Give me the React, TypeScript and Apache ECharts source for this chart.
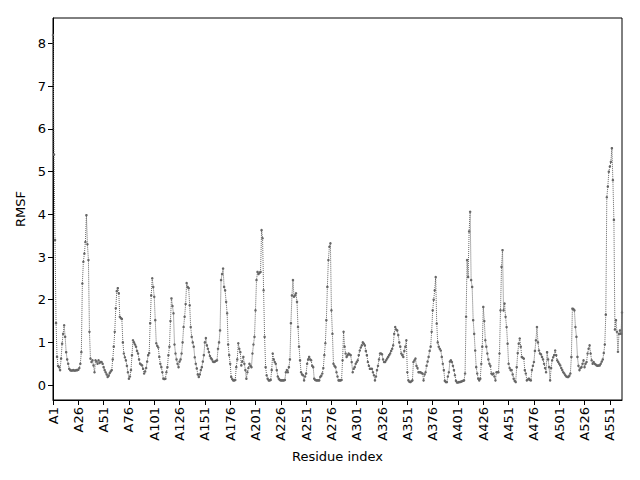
import React, { useEffect, useRef } from "react";
import * as echarts from "echarts";

const rmsf: number[] = [
  8.2, 5.4, 3.4, 1.45, 0.66, 0.45, 0.42, 0.35, 0.62, 0.97,
  1.2, 1.4, 1.13, 0.77, 0.6, 0.5, 0.38, 0.35, 0.34, 0.34,
  0.35, 0.34, 0.34, 0.35, 0.35, 0.36, 0.4, 0.5, 0.77, 2.38,
  2.89, 3.08, 3.35, 3.98, 3.3, 2.93, 1.25, 0.62, 0.54, 0.58,
  0.46, 0.3, 0.58, 0.55, 0.5, 0.58, 0.52, 0.54, 0.54, 0.5,
  0.42, 0.35, 0.3, 0.25, 0.19, 0.22, 0.28, 0.32, 0.35, 0.6,
  0.9, 1.25, 1.8, 2.2, 2.27, 2.15, 1.6, 1.57, 1.55, 1.0,
  0.74, 0.65, 0.58, 0.45, 0.3, 0.15, 0.2, 0.35, 0.7, 1.05,
  1.0, 0.95, 0.9, 0.8, 0.74, 0.6, 0.5, 0.48, 0.46, 0.38,
  0.27, 0.32, 0.4, 0.55, 0.7, 0.75, 1.45, 2.1, 2.5, 2.3,
  2.07, 1.52, 0.98, 0.92, 0.88, 0.66, 0.5, 0.42, 0.3, 0.15,
  0.14, 0.15, 0.3, 0.42, 0.7, 0.9, 1.5, 2.03, 1.85, 1.68,
  0.95, 0.74, 0.6, 0.5, 0.42, 0.55, 0.6, 0.74, 1.0, 1.36,
  1.6, 1.9, 2.39, 2.3, 2.27, 1.87, 1.36, 1.13, 1.0, 0.9,
  0.65, 0.5, 0.39, 0.25, 0.19, 0.25, 0.35, 0.42, 0.55, 0.7,
  1.0, 1.1, 0.93, 0.85, 0.77, 0.68, 0.63, 0.6, 0.55, 0.54,
  0.55, 0.57, 0.58, 0.85, 1.0, 1.28, 2.46, 2.6, 2.73, 2.3,
  2.22, 1.95, 1.68, 0.95, 0.7, 0.5, 0.19, 0.14, 0.11, 0.11,
  0.12, 0.42, 0.6, 0.98, 0.85, 0.77, 0.46, 0.55, 0.66, 0.5,
  0.35, 0.15, 0.3, 0.4, 0.5, 0.45, 0.42, 0.74, 0.95, 1.13,
  1.75, 2.46, 2.65, 2.6, 2.63, 2.65, 3.63, 3.44, 2.22, 1.13,
  0.42, 0.23, 0.15, 0.11, 0.11, 0.12, 0.35, 0.74, 0.6, 0.54,
  0.5, 0.35, 0.2, 0.15, 0.12, 0.11, 0.11, 0.11, 0.11, 0.12,
  0.3, 0.35, 0.3, 0.42, 0.6, 1.45, 2.1, 2.46, 2.07, 2.1,
  2.15, 1.95, 1.36, 0.9, 0.58, 0.3, 0.25, 0.23, 0.11, 0.2,
  0.27, 0.5, 0.6, 0.66, 0.6, 0.58, 0.45, 0.42, 0.15, 0.12,
  0.11, 0.11, 0.11, 0.11, 0.19, 0.22, 0.27, 0.4, 0.7, 0.98,
  1.52, 2.3, 2.93, 3.24, 3.32, 1.75, 1.2, 0.5, 0.45, 0.42,
  0.3, 0.2, 0.11, 0.11, 0.11, 0.12, 0.58, 1.25, 0.9, 0.74,
  0.66, 0.7, 0.74, 0.72, 0.7, 0.54, 0.3, 0.38, 0.42, 0.5,
  0.54, 0.58, 0.7, 0.81, 0.88, 0.93, 1.0, 0.97, 0.93, 0.8,
  0.7, 0.54, 0.45, 0.38, 0.38, 0.38, 0.3, 0.23, 0.11, 0.2,
  0.35, 0.45, 0.6, 0.74, 0.74, 0.72, 0.6, 0.54, 0.54, 0.58,
  0.62, 0.66, 0.7, 0.74, 0.8, 0.85, 0.93, 1.2, 1.36, 1.3,
  1.28, 1.17, 1.0, 0.9, 0.74, 0.7, 0.66, 0.8, 0.9, 1.05,
  0.3, 0.11, 0.08, 0.07, 0.09, 0.11, 0.54, 0.58, 0.62, 0.45,
  0.4, 0.3, 0.3, 0.3, 0.28, 0.27, 0.11, 0.25, 0.3, 0.45,
  0.55, 0.66, 0.8, 0.9, 1.25, 1.75, 2.0, 2.22, 2.53, 1.44,
  1.0, 0.9, 0.85, 0.81, 0.66, 0.5, 0.35, 0.1, 0.07, 0.07,
  0.2, 0.3, 0.55, 0.58, 0.54, 0.45, 0.35, 0.23, 0.1, 0.06,
  0.06, 0.07, 0.07, 0.08, 0.09, 0.1, 0.11, 0.27, 1.6, 2.93,
  2.53, 3.6, 4.06, 2.46, 2.3, 1.52, 1.2, 0.81, 0.42, 0.27,
  0.15, 0.11, 0.15, 0.5, 0.9, 1.83, 1.5, 1.05, 0.9, 0.74,
  0.6, 0.5, 0.45, 0.27, 0.25, 0.27, 0.2, 0.11, 0.3, 0.3,
  0.3, 0.74, 1.75, 2.77, 3.16, 1.75, 1.91, 1.6, 1.36, 0.97,
  0.5, 0.4, 0.35, 0.35, 0.25, 0.15, 0.1, 0.07, 0.42, 0.75,
  0.97, 1.09, 0.9, 0.66, 0.64, 0.62, 0.35, 0.27, 0.11, 0.13,
  0.15, 0.12, 0.11, 0.35, 0.45, 0.54, 0.8, 1.05, 1.36, 1.0,
  0.81, 0.74, 0.72, 0.66, 0.6, 0.5, 0.4, 0.3, 0.77, 0.6,
  0.42, 0.11, 0.4, 0.58, 0.65, 0.7, 0.81, 0.7, 0.58, 0.54,
  0.5, 0.46, 0.4, 0.35, 0.3, 0.27, 0.23, 0.2, 0.19, 0.19,
  0.22, 0.27, 0.66, 1.79, 1.78, 1.75, 1.36, 1.13, 0.66, 0.45,
  0.35, 0.4, 0.42, 0.5, 0.58, 0.42, 0.5, 0.54, 0.74, 0.85,
  0.93, 0.74, 0.58, 0.5, 0.54, 0.5, 0.48, 0.46, 0.45, 0.46,
  0.46, 0.5, 0.55, 0.6, 0.75, 0.95, 1.65, 4.4, 4.65, 5.0,
  5.12, 5.23, 5.55, 4.8, 3.87, 1.3, 1.52, 1.25, 0.78, 1.2,
  1.28, 1.2, 1.7,
];

// residue numbers shown as x tick labels (A1, A26, ...)
const xTickResidues: number[] = [1, 26, 51, 76, 101, 126, 151, 176, 201, 226, 251, 276, 301, 326, 351, 376, 401, 426, 451, 476, 501, 526, 551];
const yTicks: number[] = [0, 1, 2, 3, 4, 5, 6, 7, 8];

const FONT = "DejaVu Sans";

export default function App() {
  const ref = useRef<HTMLDivElement>(null);
  useEffect(() => {
    if (!ref.current) return;
    const chart = echarts.init(ref.current, undefined, { renderer: "svg" });
    const xTickIdx = xTickResidues.map((r) => r - 1);
    chart.setOption({
      animation: false,
      backgroundColor: "#ffffff",
      grid: {
        left: 53,
        right: 18,
        top: 18,
        bottom: 80,
        show: true,
        borderColor: "#000",
        borderWidth: 1,
        outerBoundsMode: "none",
      },
      xAxis: {
        type: "value",
        min: 0,
        max: rmsf.length - 1,
        name: "Residue index",
        nameLocation: "middle",
        nameGap: 50,
        nameTextStyle: { fontFamily: FONT, fontSize: 13, color: "#000" },
        axisLine: { show: true, onZero: false, lineStyle: { color: "#000", width: 1 } },
        axisTick: { show: true, length: 5, lineStyle: { color: "#000" }, customValues: xTickIdx },
        axisLabel: {
          show: true,
          rotate: 90,
          margin: 7,
          fontFamily: FONT,
          fontSize: 13,
          color: "#000",
          customValues: xTickIdx,
          formatter: (v: number) => "A" + (Math.round(v) + 1),
        },
        splitLine: { show: false },
      },
      yAxis: {
        type: "value",
        min: -0.35,
        max: 8.6,
        name: "RMSF",
        nameLocation: "middle",
        nameGap: 25,
        nameTextStyle: { fontFamily: FONT, fontSize: 13, color: "#000" },
        axisLine: { show: true, onZero: false, lineStyle: { color: "#000", width: 1 } },
        axisTick: { show: true, length: 5, lineStyle: { color: "#000" }, customValues: yTicks },
        axisLabel: {
          show: true,
          margin: 7,
          fontFamily: FONT,
          fontSize: 13,
          color: "#000",
          customValues: yTicks,
          formatter: (v: number) => String(Math.round(v)),
        },
        splitLine: { show: false },
      },
      series: [
        {
          type: "line",
          data: rmsf.map((v, i) => [i, v]),
          symbol: "circle",
          symbolSize: 2.5,
          showSymbol: true,
          lineStyle: { type: "dotted", width: 1, color: "#666666" },
          itemStyle: { color: "#666666" },
          emphasis: { disabled: true },
        },
      ],
    });
    return () => chart.dispose();
  }, []);
  return <div ref={ref} style={{ position: "absolute", left: 0, top: 0, width: 640, height: 480 }} />;
}
